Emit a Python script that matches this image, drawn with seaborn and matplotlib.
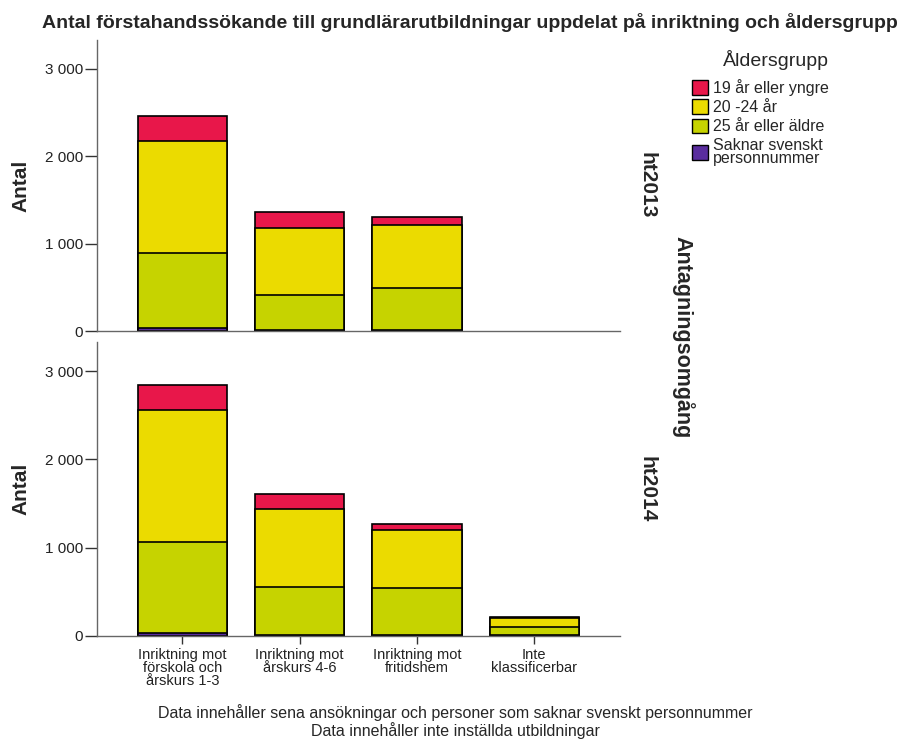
import matplotlib
matplotlib.use("Agg")
import matplotlib.pyplot as plt
from matplotlib.patches import Patch
import numpy as np
import pandas as pd
import seaborn as sns

# Data (avlästa värden)
categories = ['Inriktning mot\nförskola och\nårskurs 1-3', 'Inriktning mot\nårskurs 4-6',
              'Inriktning mot\nfritidshem', 'Inte\nklassificerbar']
age_groups = ['Saknar svenskt\npersonnummer', '25 år eller äldre', '20 -24 år', '19 år eller yngre']
rounds = ['ht2013', 'ht2014']

# ht2013 (ingen "Inte klassificerbar")
ht2013_saknar = [30, 10, 8, np.nan]
ht2013_25plus = [860, 400, 482, np.nan]
ht2013_20_24 = [1290, 764, 719, np.nan]
ht2013_19 = [280, 183, 91, np.nan]

# ht2014
ht2014_saknar = [30, 10, 10, 8]
ht2014_25plus = [1035, 547, 535, 98]
ht2014_20_24 = [1492, 878, 656, 100]
ht2014_19 = [281, 171, 68, 4]

colors = {'19 år eller yngre': '#E8174A', '20 -24 år': '#EBDB00',
          '25 år eller äldre': '#C6D300', 'Saknar svenskt\npersonnummer': '#5A2D9E'}

sns.set_style('white')
plt.rcParams['font.family'] = ['Liberation Sans', 'DejaVu Sans']

fig = plt.figure(figsize=(9.05, 7.46), dpi=100)
ax1 = fig.add_axes([0.107, 0.5563, 0.578, 0.390])
ax2 = fig.add_axes([0.107, 0.1475, 0.578, 0.394])

panel_data = {
    'ht2013': [ht2013_saknar, ht2013_25plus, ht2013_20_24, ht2013_19],
    'ht2014': [ht2014_saknar, ht2014_25plus, ht2014_20_24, ht2014_19],
}

for ax, rnd in zip([ax1, ax2], rounds):
    layers = np.array(panel_data[rnd], dtype=float)
    cum = np.cumsum(layers, axis=0)
    # rita från översta lagret nedåt
    for i in range(len(age_groups) - 1, -1, -1):
        df = pd.DataFrame({'Inriktning': categories, 'Antal': cum[i]})
        sns.barplot(data=df, x='Inriktning', y='Antal', order=categories,
                    color=colors[age_groups[i]], saturation=1, width=0.76,
                    edgecolor='black', linewidth=1.2, errorbar=None, ax=ax)
    ax.set_xlim(-0.73, 3.73)
    ax.set_ylim(0, 3330)
    ax.set_yticks([0, 1000, 2000, 3000])
    ax.set_yticklabels([f'{v:,}'.replace(',', ' ') for v in [0, 1000, 2000, 3000]],
                       fontsize=11, color='#222222')
    ax.set_ylabel('Antal', fontsize=15, fontweight='bold', labelpad=10)
    ax.set_xlabel('')
    for s in ['top', 'right']:
        ax.spines[s].set_visible(False)
    for s in ['left', 'bottom']:
        ax.spines[s].set_color('#666666')
        ax.spines[s].set_linewidth(1.0)
    ax.tick_params(axis='y', direction='out', length=9, width=1, color='#333333', left=True, pad=1)
    ax.text(1.052, 0.5, rnd, transform=ax.transAxes, rotation=-90, fontsize=15,
            fontweight='bold', ha='center', va='center')

ax1.tick_params(axis='x', bottom=False, labelbottom=False)
ax2.tick_params(axis='x', direction='out', length=6, width=1, color='#333333', bottom=True, pad=3)
ax2.set_xticks(range(len(categories)))
ax2.set_xticklabels(categories, fontsize=10.5, linespacing=0.88, color='#222222')

fig.text(683 / 905, 1 - 337 / 746, 'Antagningsomgång', rotation=-90, fontsize=15.5,
         fontweight='bold', ha='center', va='center')

fig.text(470 / 905, 1 - 22 / 746,
         'Antal förstahandssökande till grundlärarutbildningar uppdelat på inriktning och åldersgrupp',
         ha='center', va='center', fontsize=14, fontweight='bold')

# legend
fig.text(776 / 905, 1 - 60 / 746, 'Åldersgrupp', ha='center', va='center', fontsize=14)
handles = [Patch(facecolor=colors[g], edgecolor='black', linewidth=1) for g in age_groups[::-1]]
leg = fig.legend(handles, age_groups[::-1], loc='upper left',
                 bbox_to_anchor=(692 / 905, 1 - 79 / 746), frameon=False, fontsize=11.5,
                 handlelength=1.0, handleheight=1.0, handletextpad=0.3,
                 labelspacing=0.22, borderaxespad=0, borderpad=0)
for t in leg.get_texts():
    t.set_linespacing(0.85)

fig.text(455 / 905, 1 - 713 / 746,
         'Data innehåller sena ansökningar och personer som saknar svenskt personnummer',
         ha='center', va='center', fontsize=11.5)
fig.text(455 / 905, 1 - 731 / 746, 'Data innehåller inte inställda utbildningar',
         ha='center', va='center', fontsize=11.5)

fig.savefig('out.png', dpi=100)
